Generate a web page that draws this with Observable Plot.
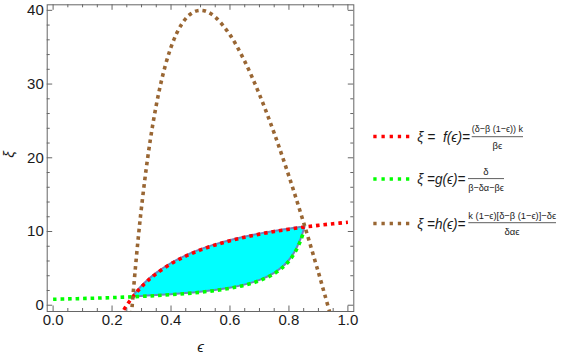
<!DOCTYPE html>
<html><head><meta charset="utf-8">
<script src="https://cdn.jsdelivr.net/npm/d3@7"></script>
<script src="https://cdn.jsdelivr.net/npm/@observablehq/plot@0.6"></script>
<style>body{margin:0;background:#fff} svg{display:block}</style>
</head><body><div id="chart"></div>
<script>
// f(ϵ) red curve
const fEps = [0.24,0.25,0.26,0.27,0.28,0.29,0.30,0.32,0.35,0.40,0.45,0.50,0.55,0.60,0.65,0.70,0.75,0.80,0.85,0.90,0.95,1.00];
const fVal = [-0.625,0,0.577,1.111,1.607,2.069,2.5,3.281,4.286,5.625,6.667,7.5,8.182,8.75,9.231,9.643,10,10.313,10.588,10.833,11.053,11.25];
// g(ϵ) green curve
const gEps = [0,0.05,0.10,0.15,0.20,0.25,0.30,0.35,0.40,0.45,0.50,0.55,0.60,0.65,0.70,0.75,0.78,0.80,0.82,0.84,0.85];
const gVal = [0.811,0.857,0.909,0.968,1.034,1.111,1.2,1.304,1.429,1.579,1.765,2.0,2.308,2.727,3.333,4.286,5.172,6.0,7.143,8.824,10.0];
// h(ϵ) brown curve
const hEps = [0.26,0.265,0.27,0.28,0.29,0.30,0.32,0.34,0.36,0.38,0.40,0.42,0.44,0.46,0.48,0.50,0.52,0.55,0.60,0.65,0.70,0.75,0.80,0.85,0.90,0.92,0.94,0.95];
const hVal = [-4.31,-1.68,0.81,5.43,9.59,13.33,19.75,24.94,29.11,32.42,35,36.95,38.36,39.30,39.83,40,39.85,39.09,36.67,33.08,28.57,23.33,17.5,11.18,4.44,1.65,-1.19,-2.63];
// shaded region between g and f
const regEps  = [0.275,0.28,0.29,0.30,0.32,0.35,0.40,0.45,0.50,0.55,0.60,0.65,0.70,0.75,0.78,0.80,0.82,0.84,0.85,0.855];
const regLow  = [1.154,1.163,1.181,1.2,1.240,1.304,1.429,1.579,1.765,2.0,2.308,2.727,3.333,4.286,5.172,6.0,7.143,8.824,10.0,10.614];
const regHigh = [1.364,1.607,2.069,2.5,3.281,4.286,5.625,6.667,7.5,8.182,8.75,9.231,9.643,10,10.192,10.313,10.427,10.536,10.588,10.614];
// ticks
const xMajor = [0,0.2,0.4,0.6,0.8,1.0];
const xMinor = [0.05,0.1,0.15,0.25,0.3,0.35,0.45,0.5,0.55,0.65,0.7,0.75,0.85,0.9,0.95];
const yMajor = [0,10,20,30,40];
const yMinor = [2,4,6,8,12,14,16,18,22,24,26,28,32,34,36,38];
// legend
const legendColors = ["#ff0000","#00ff00","#996633"];
const legendLead = ["ξ =  f(ϵ)=","ξ =g(ϵ)=","ξ =h(ϵ)="];
const legendNum = ["(δ−β (1−ϵ)) k","δ","k (1−ϵ)[δ−β (1−ϵ)]−δϵ"];
const legendDen = ["βϵ","β−δα−βϵ","δαϵ"];

const fData = fEps.map((e,i)=>({e, v:fVal[i]}));
const gData = gEps.map((e,i)=>({e, v:gVal[i]}));
const hData = hEps.map((e,i)=>({e, v:hVal[i]}));
const regData = regEps.map((e,i)=>({e, lo:regLow[i], hi:regHigh[i]}));

const W = 563, H = 358, mL = 46.7, mR = 209.7, mT = 4.3, mB = 47;
const fw = W - mL - mR, fh = H - mT - mB;
const dot = {strokeWidth: 3.6, strokeDasharray: "3.6 3.9", strokeLinecap: "butt", curve: "catmull-rom", clip: true};
const font = "'Liberation Sans', Arial, sans-serif";

const plot = Plot.plot({
  width: W, height: H,
  marginLeft: mL, marginRight: mR, marginTop: mT, marginBottom: mB,
  style: {fontFamily: font, fontSize: "15px", background: "#fff"},
  x: {domain: [-0.02, 1.02], axis: null},
  y: {domain: [-0.85, 40.75], axis: null},
  marks: [
    Plot.areaY(regData, {x: "e", y1: "lo", y2: "hi", fill: "#00ffff", stroke: "#6f83c0", strokeWidth: 2, curve: "catmull-rom"}),
    Plot.line(fData, {x: "e", y: "v", stroke: "#ff0000", ...dot}),
    Plot.line(gData, {x: "e", y: "v", stroke: "#00ff00", ...dot}),
    Plot.line(hData, {x: "e", y: "v", stroke: "#996633", ...dot}),
    Plot.frame({stroke: "#666"}),
    Plot.tickX(xMajor, {x: d=>d, stroke: "#666", insetTop: fh - 5.5}),
    Plot.tickX(xMajor, {x: d=>d, stroke: "#666", insetBottom: fh - 5.5}),
    Plot.tickX(xMinor, {x: d=>d, stroke: "#666", insetTop: fh - 3}),
    Plot.tickX(xMinor, {x: d=>d, stroke: "#666", insetBottom: fh - 3}),
    Plot.tickY(yMajor, {y: d=>d, stroke: "#666", insetRight: fw - 5.5}),
    Plot.tickY(yMajor, {y: d=>d, stroke: "#666", insetLeft: fw - 5.5}),
    Plot.tickY(yMinor, {y: d=>d, stroke: "#666", insetRight: fw - 3}),
    Plot.tickY(yMinor, {y: d=>d, stroke: "#666", insetLeft: fw - 3}),
    Plot.text(xMajor, {x: d=>d, frameAnchor: "bottom", dy: 9, text: d=>d.toFixed(1), lineAnchor: "middle", fill: "#1a1a1a"}),
    Plot.text(yMajor, {y: d=>d, frameAnchor: "left", dx: -3.4, textAnchor: "end", text: d=>String(d), lineAnchor: "middle", fill: "#1a1a1a"}),
    Plot.text(["ϵ"], {x: 0.5, frameAnchor: "bottom", dy: 36, text: d=>d, lineAnchor: "middle", fontStyle: "italic", fill: "#1a1a1a"}),
    Plot.text(["ξ"], {y: 20, frameAnchor: "left", dx: -37.7, rotate: -90, text: d=>d, lineAnchor: "middle", fontStyle: "italic", fill: "#1a1a1a"})
  ]
});
document.getElementById("chart").appendChild(plot);

// legend
const svg = d3.select(plot);
const rows = [
  {y: 136.5, lead: 52.7, numX: 497.3, numY: 128, numLen: 51.3, lineX: [471.7, 523], lineY: 136.7, denX: 497.3, denY: 145, denLen: null},
  {y: 179, lead: 48, numX: 486, numY: 171.3, numLen: null, lineX: [468, 504], lineY: 178.6, denX: 486, denY: 187.3, denLen: 35.7},
  {y: 223.5, lead: 48, numX: 512.2, numY: 215.8, numLen: 87.7, lineX: [468.3, 556], lineY: 222.7, denX: 512, denY: 231.5, denLen: null}
];
const lg = svg.append("g").attr("font-family", font).attr("fill", "#1a1a1a");
rows.forEach((r, i) => {
  lg.append("line").attr("x1", 373.3).attr("x2", 409.3).attr("y1", r.y).attr("y2", r.y)
    .attr("stroke", legendColors[i]).attr("stroke-width", 3.4).attr("stroke-dasharray", "3.3 4.87");
  lg.append("text").attr("x", 417.3).attr("y", r.y).attr("dominant-baseline", "central")
    .attr("text-anchor", "start")
    .attr("font-size", 14.5).attr("font-style", "italic").style("white-space", "pre")
    .attr("textLength", r.lead).attr("lengthAdjust", "spacingAndGlyphs").text(legendLead[i]);
  const n = lg.append("text").attr("x", r.numX).attr("y", r.numY).attr("text-anchor", "middle")
    .attr("dominant-baseline", "central").attr("font-size", 9.5).text(legendNum[i]);
  if (r.numLen) n.attr("textLength", r.numLen).attr("lengthAdjust", "spacingAndGlyphs");
  lg.append("line").attr("x1", r.lineX[0]).attr("x2", r.lineX[1]).attr("y1", r.lineY).attr("y2", r.lineY)
    .attr("stroke", "#333").attr("stroke-width", 0.8);
  const d = lg.append("text").attr("x", r.denX).attr("y", r.denY).attr("text-anchor", "middle")
    .attr("dominant-baseline", "central").attr("font-size", 9.5).text(legendDen[i]);
  if (r.denLen) d.attr("textLength", r.denLen).attr("lengthAdjust", "spacingAndGlyphs");
});
</script>
</body></html>
